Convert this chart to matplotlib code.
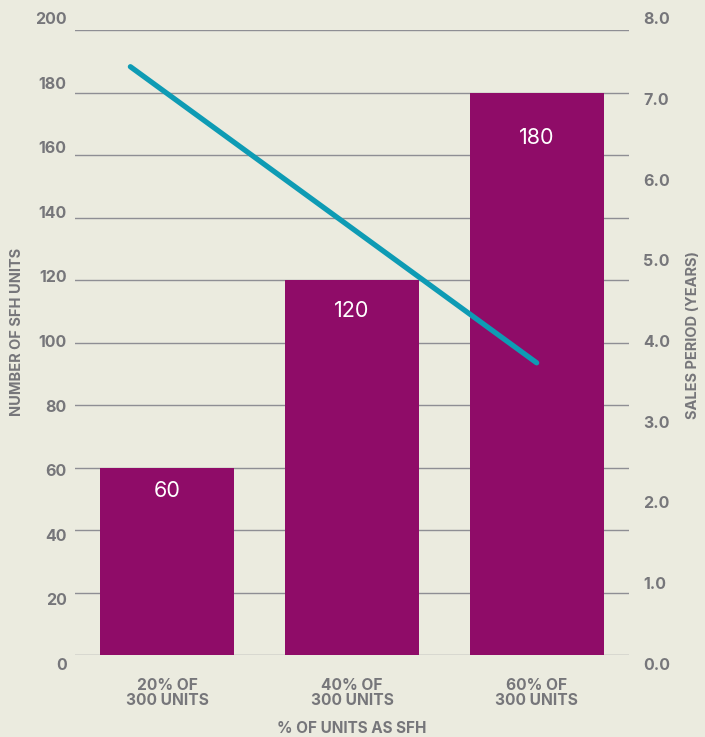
import matplotlib.pyplot as plt
from matplotlib.transforms import offset_copy

# Chart data
categories = ["20% OF\n300 UNITS", "40% OF\n300 UNITS", "60% OF\n300 UNITS"]
sfh_units = [60, 120, 180]
line_x = [-0.2, 2.0]          # category-axis positions of the sales-period line ends
sales_years = [7.53, 3.74]
left_ticks = [0, 20, 40, 60, 80, 100, 120, 140, 160, 180, 200]
right_ticks = [0, 1, 2, 3, 4, 5, 6, 7, 8]
right_labels = ["0.0", "1.0", "2.0", "3.0", "4.0", "5.0", "6.0", "7.0", "8.0"]

# Layout: how far (in points) each value label sits below its bar top
label_drop_pt = [17, 22, 33]

BG = "#ebebdf"
PURPLE = "#8f0c68"
TEAL = "#0e9bb4"
GRAY = "#76767a"
GRID = "#8e8e94"
FONT = ["Inter", "DejaVu Sans"]

W, H = 705, 737
fig = plt.figure(figsize=(W / 100, H / 100), dpi=100, facecolor=BG)

# Main plotting area (bars + gridlines)
ax = fig.add_axes([75 / W, (H - 655) / H, 554 / W, 625 / H])
ax.set_facecolor("none")
ax.set_xlim(-0.5, 2.5)
ax.set_ylim(0, 200)
for s in ax.spines.values():
    s.set_visible(False)
ax.set_yticks(left_ticks)
ax.tick_params(axis="y", length=0, labelleft=False)
ax.yaxis.grid(True, color=GRID, linewidth=1.0)
ax.set_axisbelow(True)

ax.bar(range(len(sfh_units)), sfh_units, width=0.724, color=PURPLE, zorder=2)
for i, v in enumerate(sfh_units):
    tr = offset_copy(ax.transData, fig=fig, x=0, y=-label_drop_pt[i], units="points")
    ax.text(i, v, f"{v}", transform=tr, ha="center", va="center", color="white",
            fontsize=15.5, family=FONT, zorder=3)

ax.set_xticks(range(len(categories)))
ax.set_xticklabels(categories, fontsize=11.2, fontweight="bold", color=GRAY,
                   family=FONT, linespacing=1.02)
ax.tick_params(axis="x", length=0, pad=16.5)

# Sales period line on the secondary scale
ax2 = ax.twinx()
ax2.set_ylim(0, 8)
ax2.set_xlim(-0.5, 2.5)
for s in ax2.spines.values():
    s.set_visible(False)
ax2.set_yticks([])
ax2.plot(line_x, sales_years, color=TEAL, linewidth=3.8, solid_capstyle="round", zorder=4)

# Tick label scales
lab = fig.add_axes([75 / W, (H - 664) / H, 554 / W, 646 / H])
lab.set_facecolor("none")
lab.set_ylim(0, 200)
lab.set_xticks([])
for s in lab.spines.values():
    s.set_visible(False)
lab.set_yticks(left_ticks)
lab.set_yticklabels([str(t) for t in left_ticks], fontsize=11.5, fontweight="bold",
                    color=GRAY, family=FONT)
lab.tick_params(axis="y", length=0, pad=6)

lab2 = lab.twinx()
lab2.set_ylim(0, 8)
for s in lab2.spines.values():
    s.set_visible(False)
lab2.set_yticks(right_ticks)
lab2.set_yticklabels(right_labels, fontsize=11.5, fontweight="bold", color=GRAY, family=FONT)
lab2.tick_params(axis="y", length=0, pad=10)

# Axis titles
fig.text(352 / W, (H - 728.5) / H, "% OF UNITS AS SFH", ha="center", va="center",
         fontsize=11, fontweight="bold", color=GRAY, family=FONT)
fig.text(17.5 / W, (H - 332) / H, "NUMBER OF SFH UNITS", rotation=90, ha="center",
         va="center", fontsize=10.5, fontweight="bold", color=GRAY, family=FONT)
fig.text(693 / W, (H - 335) / H, "SALES PERIOD (YEARS)", rotation=90, ha="center",
         va="center", fontsize=10.5, fontweight="bold", color=GRAY, family=FONT)

fig.savefig("out.png", dpi=100, facecolor=BG)
